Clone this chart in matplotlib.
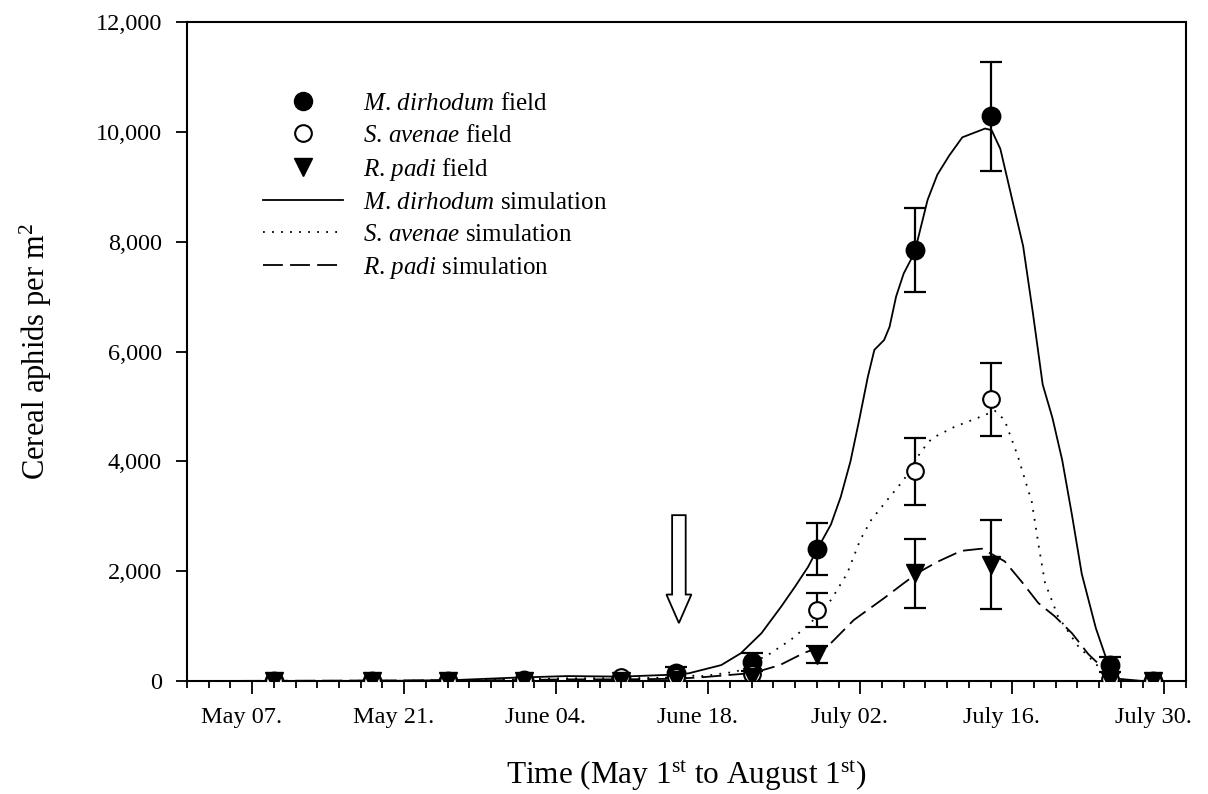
import numpy as np
import matplotlib.pyplot as plt
from matplotlib.lines import Line2D
from matplotlib.patches import FancyArrow
from matplotlib.ticker import FuncFormatter, MultipleLocator
from matplotlib.transforms import ScaledTranslation

plt.rcParams['font.family'] = 'Liberation Serif'
plt.rcParams['mathtext.fontset'] = 'custom'
plt.rcParams['mathtext.rm'] = 'Liberation Serif'
plt.rcParams['mathtext.it'] = 'Liberation Serif:italic'

# days counted from May 1st (day 0)
field_days = [8, 17, 24, 31, 40, 45, 52, 58, 67, 74, 85, 89]

dirhodum_field = [0, 0, 0, 10, 40, 150, 350, 2400, 7850, 10280, 300, 0]
dirhodum_err = [0, 0, 0, 0, 0, 100, 160, 470, 770, 990, 130, 0]
avenae_field = [0, 0, 0, 10, 70, 80, 120, 1300, 3820, 5130, 40, 0]
avenae_err = [0, 0, 0, 0, 0, 0, 0, 310, 610, 660, 0, 0]
padi_field = [0, 0, 0, 0, 0, 20, 80, 480, 1960, 2120, 0, 0]
padi_err = [0, 0, 0, 0, 0, 0, 0, 160, 630, 810, 0, 0]

# simulated populations
dirhodum_sim_days = [0, 10, 20, 25, 30, 35, 40, 44, 46.2, 49.2, 51.0, 52.9, 54.7, 56.0,
                     57.2, 58.1, 59.3, 60.2, 61.1, 61.9, 62.7, 63.3, 64.2, 64.7, 65.3,
                     66.0, 67.0, 68.2, 69.1, 70.2, 71.4, 73.5, 74.1, 74.9, 76.0, 77.0,
                     77.9, 78.8, 79.7, 80.6, 81.5, 82.4, 83.7, 84.9, 85.8, 88, 92]
dirhodum_sim = [0, 0, 5, 20, 60, 90, 80, 110, 140, 290, 505, 870, 1350, 1720,
                2080, 2420, 2850, 3350, 4000, 4750, 5540, 6030, 6210, 6450, 7000,
                7420, 7800, 8760, 9220, 9570, 9900, 10060, 10030, 9690, 8760, 7920,
                6700, 5400, 4790, 4020, 3020, 1950, 960, 270, 40, 0, 0]

avenae_sim_days = [0, 20, 30, 35, 40, 44, 46, 47.5, 50.6, 53.7, 55.6, 57.4, 59.3, 60.8,
                   62.0, 63.0, 64.5, 66.0, 67.6, 68.6, 70.7, 72.8, 74.4, 75.3, 76.5,
                   77.8, 78.4, 79.0, 80.2, 82.0, 83.9, 85.2, 87, 92]
avenae_sim = [0, 5, 30, 50, 50, 60, 100, 90, 170, 500, 750, 1050, 1475, 1960,
              2570, 2930, 3300, 3660, 4180, 4420, 4630, 4790, 4920, 4750, 4100,
              3260, 2500, 1800, 1180, 650, 270, 40, 0, 0]

padi_sim_days = [0, 30, 35, 40, 45, 47.5, 52.1, 54.6, 56.8, 59.3, 61.4, 64.2, 66.0,
                 67.3, 69.1, 71.3, 73.2, 75.3, 76.9, 78.4, 79.9, 81.5, 83.0, 84.6,
                 85.5, 87, 92]
padi_sim = [0, 15, 30, 30, 40, 70, 145, 290, 510, 690, 1110, 1510, 1780,
            1970, 2170, 2370, 2410, 2180, 1800, 1420, 1180, 870, 490, 190,
            30, 0, 0]

tick_days = [6, 20, 34, 48, 62, 76, 90]
tick_labels = ['May 07.', 'May 21.', 'June 04.', 'June 18.', 'July 02.', 'July 16.', 'July 30.']

fig = plt.figure(figsize=(12.08, 7.94), dpi=100)
ax = fig.add_axes([0.1548, 0.1423, 0.8270, 0.8300])

# simulation curves
ax.plot(dirhodum_sim_days, dirhodum_sim, color='black', lw=1.3, ls='-')
ax.plot(avenae_sim_days, avenae_sim, color='black', lw=1.3, ls=(0, (1, 4)))
ax.plot(padi_sim_days, padi_sim, color='black', lw=1.3, ls=(0, (11, 4)))


def draw_field(values, errs, **kw):
    d = np.array(field_days, dtype=float)
    v = np.array(values, dtype=float)
    e = np.array(errs, dtype=float)
    m = e > 0
    ax.errorbar(d[m], v[m], yerr=e[m], fmt='none', ecolor='black',
                elinewidth=1.6, capsize=8, capthick=1.6, zorder=3)
    ax.plot(d, v, ls='none', zorder=4, **kw)


draw_field(dirhodum_field, dirhodum_err, marker='o', ms=13,
           mfc='black', mec='black', mew=1.3)
draw_field(avenae_field, avenae_err, marker='o', ms=12,
           mfc='white', mec='black', mew=1.5)
draw_field(padi_field, padi_err, marker='v', ms=13,
           mfc='black', mec='black', mew=1.0)

# arrow marking the 45th day
ax.add_patch(FancyArrow(45.3, 3020, 0, -1965, width=1.25, head_width=2.3,
                        head_length=520, length_includes_head=True,
                        facecolor='white', edgecolor='black', lw=1.3, zorder=5))

ax.set_xlim(0, 92)
ax.set_ylim(0, 12000)
ax.set_xticks(tick_days)
ax.set_xticklabels(tick_labels)
ax.xaxis.set_minor_locator(MultipleLocator(2))
ax.set_yticks(np.arange(0, 12001, 2000))
ax.yaxis.set_major_formatter(FuncFormatter(lambda v, p: f'{int(v):,}'))

ax.tick_params(axis='x', which='major', direction='out', length=9, width=1.3,
               pad=10, labelsize=17.5)
ax.tick_params(axis='x', which='minor', direction='out', length=5, width=1.3)
ax.tick_params(axis='y', which='major', direction='out', length=8, width=1.3,
               pad=10, labelsize=17.5)
for lbl in ax.get_xticklabels():
    lbl.set_transform(lbl.get_transform() + ScaledTranslation(-0.11, 0, fig.dpi_scale_trans))
for s in ax.spines.values():
    s.set_linewidth(1.5)

ax.set_xlabel(r'Time (May 1$^{\rm st}$ to August 1$^{\rm st}$)', fontsize=22.5, labelpad=22)
ax.set_ylabel(r'Cereal aphids per m$^{2}$', fontsize=22, labelpad=30)

handles = [
    Line2D([], [], ls='none', marker='o', ms=13, mfc='black', mec='black'),
    Line2D([], [], ls='none', marker='o', ms=12, mfc='white', mec='black', mew=1.5),
    Line2D([], [], ls='none', marker='v', ms=13, mfc='black', mec='black'),
    Line2D([], [], color='black', lw=1.3, ls='-'),
    Line2D([], [], color='black', lw=1.3, ls=(0, (1, 4))),
    Line2D([], [], color='black', lw=1.3, ls=(0, (11, 4))),
]
labels = [
    r'$\it{M}$. $\it{dirhodum}$ field',
    r'$\it{S}$. $\it{avenae}$ field',
    r'$\it{R}$. $\it{padi}$ field',
    r'$\it{M}$. $\it{dirhodum}$ simulation',
    r'$\it{S}$. $\it{avenae}$ simulation',
    r'$\it{R}$. $\it{padi}$ simulation',
]
ax.legend(handles, labels, loc='upper left', bbox_to_anchor=(0.076, 0.893),
          frameon=False, fontsize=18, handlelength=3.2, handletextpad=0.8,
          labelspacing=0.36, borderpad=0, borderaxespad=0)

fig.savefig('out.png', dpi=100)
